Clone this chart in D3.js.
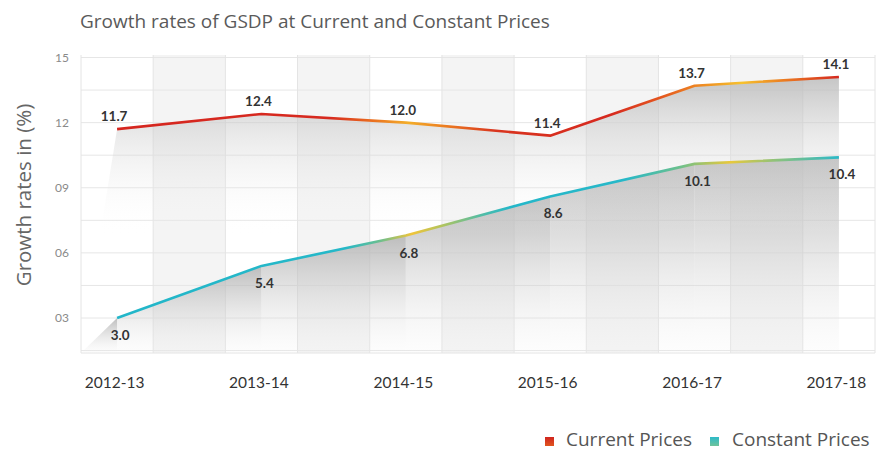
<!DOCTYPE html>
<html>
<head>
<meta charset="utf-8">
<script src="https://cdn.jsdelivr.net/npm/d3@7"></script>
<style>
  html, body { margin: 0; padding: 0; background: #fff; }
  svg { display: block; }
</style>
</head>
<body>
<svg id="chart" width="876" height="452"></svg>
<script>
// ---- data ----
const categories = ["2012-13", "2013-14", "2014-15", "2015-16", "2016-17", "2017-18"];
const currentPrices = [11.7, 12.4, 12.0, 11.4, 13.7, 14.1];
const constantPrices = [3.0, 5.4, 6.8, 8.6, 10.1, 10.4];
const yTickValues = [3, 6, 9, 12, 15];
const seriesNames = ["Current Prices", "Constant Prices"];
const titleText = "Growth rates of GSDP at Current and Constant Prices";
const yAxisTitle = "Growth rates in (%)";

// ---- layout ----
const svg = d3.select("#chart");
const plot = { left: 81, right: 875, top: 55, bottom: 353 };

const x = d3.scalePoint().domain(categories).range([plot.left, plot.right]).padding(0.25);
const step = x.step();
const y = d3.scaleLinear().domain([3, 15]).range([318, 57.5]);
const yBottomValue = y.invert(plot.bottom);

const defs = svg.append("defs");

// line gradients (horizontal)
function hGrad(id, stops) {
  const g = defs.append("linearGradient").attr("id", id)
    .attr("gradientUnits", "userSpaceOnUse")
    .attr("x1", plot.left).attr("x2", plot.right).attr("y1", 0).attr("y2", 0);
  stops.forEach(([px, c]) => g.append("stop")
    .attr("offset", (px - plot.left) / (plot.right - plot.left)).attr("stop-color", c));
}
hGrad("gCur", [[113, "#d5261f"], [330, "#d72a1f"], [372, "#ea6e1f"], [408, "#f3ae2a"], [445, "#ec7d20"],
               [495, "#d9351f"], [610, "#d6291f"], [660, "#e4561f"], [705, "#ef8f23"], [742, "#f6c22e"],
               [785, "#eb7a21"], [839, "#d5281f"]]);
hGrad("gCon", [[113, "#22b6c9"], [345, "#25b8c8"], [380, "#6bbf8f"], [412, "#f0c43a"], [440, "#b6c45a"],
               [480, "#55bda3"], [510, "#24b7c9"], [625, "#27b8c8"], [680, "#6cc08c"], [730, "#e9c83b"],
               [775, "#8fc27a"], [839, "#2bb9c8"]]);

// area gradients (vertical)
function vGrad(id, units, y1, y2, stops) {
  const g = defs.append("linearGradient").attr("id", id)
    .attr("gradientUnits", units)
    .attr("x1", 0).attr("x2", 0).attr("y1", y1).attr("y2", y2);
  stops.forEach(([o, c, op]) => g.append("stop").attr("offset", o)
    .attr("stop-color", c).attr("stop-opacity", op));
}
vGrad("aCur", "userSpaceOnUse", 78, 235, [[0, "#b8b8b8", 0.8], [0.4, "#d0d0d0", 0.4], [1, "#ffffff", 0]]);
vGrad("aCon", "objectBoundingBox", 0, 1, [[0, "#acacac", 0.8], [0.45, "#c8c8c8", 0.5], [1, "#eeeeee", 0.12]]);

// legend square gradients
function sqGrad(id, c1, c2) {
  const g = defs.append("linearGradient").attr("id", id).attr("x1", 0).attr("x2", 0).attr("y1", 0).attr("y2", 1);
  g.append("stop").attr("offset", 0).attr("stop-color", c1);
  g.append("stop").attr("offset", 1).attr("stop-color", c2);
}
sqGrad("sqCur", "#d0241f", "#e0561f");
sqGrad("sqCon", "#2dbac8", "#6ec39a");

// ---- plot background: shaded columns ----
const bandStarts = categories.slice(0, -1).map(c => x(c) + step / 4);
svg.append("g").selectAll("rect").data(bandStarts).join("rect")
  .attr("x", d => d).attr("y", plot.top)
  .attr("width", step / 2).attr("height", plot.bottom - plot.top)
  .attr("fill", "#f4f4f4");

// horizontal grid lines every 1.5
const hGridVals = d3.range(15, yBottomValue - 0.01, -1.5);
svg.append("g").selectAll("line").data(hGridVals).join("line")
  .attr("x1", plot.left).attr("x2", plot.right)
  .attr("y1", d => y(d)).attr("y2", d => y(d))
  .attr("stroke", "#e6e6e6").attr("stroke-width", 1);

// vertical grid lines at column boundaries
const vGridX = [plot.left].concat(categories.flatMap((c, i) => {
  const arr = [];
  if (i > 0) arr.push(x(c) - step / 4);
  if (i < categories.length - 1) arr.push(x(c) + step / 4);
  return arr;
}), [plot.right]);
svg.append("g").selectAll("line").data(vGridX).join("line")
  .attr("x1", d => d).attr("x2", d => d)
  .attr("y1", plot.top).attr("y2", plot.bottom)
  .attr("stroke", "#e4e4e4").attr("stroke-width", 1);

svg.append("line").attr("x1", plot.left).attr("x2", plot.right)
  .attr("y1", plot.bottom).attr("y2", plot.bottom).attr("stroke", "#e4e4e4");

// ---- areas ----
function areaData(values) {
  return [{ px: plot.left, v: yBottomValue }].concat(values.map((v, i) => ({ px: x(categories[i]), v })));
}
const area = d3.area().x(d => d.px).y0(plot.bottom).y1(d => y(d.v));

// constant prices: shading drawn per segment, each darkest just under the line
const conSegs = d3.pairs(areaData(constantPrices));
svg.append("g").selectAll("path").data(conSegs).join("path")
  .attr("d", d => area(d)).attr("fill", "url(#aCon)");

svg.append("path").datum(areaData(currentPrices)).attr("d", area).attr("fill", "url(#aCur)");

// ---- lines ----
const line = d3.line().x((d, i) => x(categories[i])).y(d => y(d));
svg.append("path").datum(currentPrices).attr("d", line)
  .attr("fill", "none").attr("stroke", "url(#gCur)").attr("stroke-width", 2.6).attr("stroke-linejoin", "round");
svg.append("path").datum(constantPrices).attr("d", line)
  .attr("fill", "none").attr("stroke", "url(#gCon)").attr("stroke-width", 2.6).attr("stroke-linejoin", "round");

// ---- data labels ----
const fmt = d3.format(".1f");
svg.append("g").selectAll("text").data(currentPrices).join("text")
  .attr("x", (d, i) => x(categories[i]) - 3).attr("y", d => y(d) - 8)
  .attr("text-anchor", "middle")
  .attr("font-family", "Lato, sans-serif").attr("font-weight", "bold").attr("font-size", 13.5)
  .attr("fill", "#333").text(d => fmt(d));
svg.append("g").selectAll("text").data(constantPrices).join("text")
  .attr("x", (d, i) => x(categories[i]) + 3).attr("y", d => y(d) + 22)
  .attr("text-anchor", "middle")
  .attr("font-family", "Lato, sans-serif").attr("font-weight", "bold").attr("font-size", 13.5)
  .attr("fill", "#333").text(d => fmt(d));

// ---- axes ----
const yAxis = d3.axisLeft(y).tickValues(yTickValues).tickFormat(d3.format("02d")).tickSize(0).tickPadding(0);
const yg = svg.append("g").attr("transform", `translate(69,0)`).call(yAxis);
yg.select(".domain").remove();
yg.selectAll("text").attr("font-family", "Lato, sans-serif").attr("font-size", 12).attr("fill", "#8a8a8a");

const xAxis = d3.axisBottom(x).tickSize(0).tickPadding(0);
const xg = svg.append("g").attr("transform", `translate(-3,377)`).call(xAxis);
xg.select(".domain").remove();
xg.selectAll("text").attr("font-family", "Lato, sans-serif").attr("font-size", 15.5).attr("fill", "#333");

// ---- titles ----
svg.append("text").attr("x", 80).attr("y", 28)
  .attr("font-family", "'Open Sans', sans-serif").attr("font-size", 19).attr("fill", "#5a5a5a")
  .text(titleText);

svg.append("text").attr("transform", `translate(31,195) rotate(-90)`)
  .attr("text-anchor", "middle")
  .attr("font-family", "'Open Sans', sans-serif").attr("font-size", 20.5).attr("fill", "#666")
  .text(yAxisTitle);

// ---- legend ----
const legendItems = [
  { name: seriesNames[0], fill: "url(#sqCur)", sx: 545, tx: 566 },
  { name: seriesNames[1], fill: "url(#sqCon)", sx: 710, tx: 732 }
];
const lg = svg.append("g");
lg.selectAll("rect").data(legendItems).join("rect")
  .attr("x", d => d.sx).attr("y", 437).attr("width", 9).attr("height", 9).attr("fill", d => d.fill);
lg.selectAll("text").data(legendItems).join("text")
  .attr("x", d => d.tx).attr("y", 446)
  .attr("font-family", "'Open Sans', sans-serif").attr("font-size", 19).attr("fill", "#555")
  .text(d => d.name);
</script>
</body>
</html>
